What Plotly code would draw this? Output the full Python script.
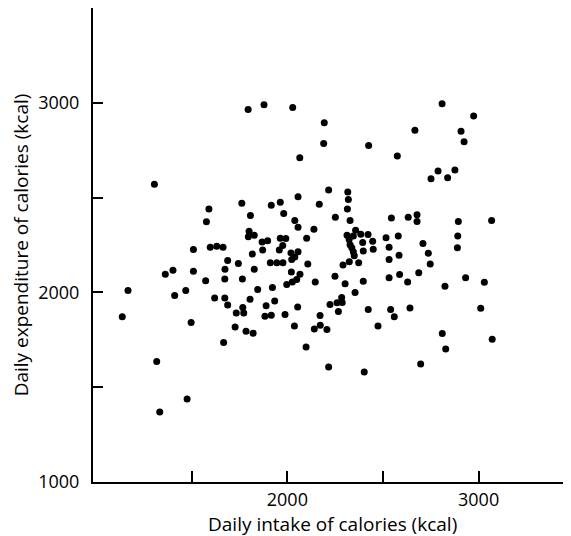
import plotly.graph_objects as go

# Daily intake (kcal) and daily expenditure (kcal) per subject
intake = [1305, 1590, 1795, 1878, 2028, 2193, 2190, 2425, 2065, 2216, 2316, 2319, 2314, 1762, 1916, 1963, 2056, 2167,
          2809, 2974, 2667, 2908, 2924, 2575, 2788, 2876, 2751, 2838,
          1577, 1509, 1597, 1631, 1664, 1688, 1744, 1674, 1362, 1402, 1509, 1673, 1765, 1573, 1167, 1469, 1411, 1620,
          1673, 1688, 1733, 1137, 1497,
          1807, 1981, 2039, 2056, 2139, 2251, 2328, 1800, 1796, 1827, 1868, 1897, 1963, 1992, 2101, 1976, 1958, 1871,
          1817, 2019, 2056, 2023, 2039, 1911, 1945, 1977, 2107, 1827, 2021, 2066, 2049, 2026, 1997, 2146, 1845, 1922,
          1805, 1934, 1889, 2054, 1767, 1772, 1883, 1916, 1988, 2171,
          2312, 2345, 2384, 2422, 2357, 2323, 2328, 2337, 2345, 2350, 2394, 2446, 2397, 2449, 2324, 2291, 2373, 2249,
          2302, 2397, 2354, 2284, 2260, 2223, 2287, 2267, 2423,
          2544, 2632, 2678, 2678, 2894, 3068, 2516, 2580, 2891, 2532, 2709, 2889, 2737, 2584, 2532, 2747, 2687, 2587,
          2532, 2629, 2932, 3030, 2824, 2540, 2641, 3011, 2559,
          1727, 1667, 1317, 1476, 1333,
          1784, 1821, 2037, 2141, 2172, 2207, 2098, 2216, 2402, 2474,
          2810, 3071, 2828, 2697]
expenditure = [2570, 2440, 2965, 2990, 2975, 2895, 2785, 2775, 2710, 2540, 2530, 2490, 2440, 2470, 2460, 2475, 2505, 2465,
               2995, 2930, 2855, 2850, 2795, 2720, 2640, 2645, 2600, 2605,
               2372, 2226, 2238, 2244, 2238, 2168, 2152, 2122, 2096, 2117, 2112, 2071, 2071, 2061, 2010, 2010, 1984, 1971,
               1971, 1934, 1892, 1871, 1841,
               2406, 2416, 2379, 2344, 2333, 2397, 2379, 2323, 2293, 2302, 2266, 2272, 2286, 2284, 2286, 2247, 2223, 2224,
               2202, 2208, 2214, 2174, 2187, 2156, 2156, 2156, 2150, 2122, 2107, 2096, 2068, 2055, 2042, 2055, 2015, 2026,
               1964, 1955, 1929, 1923, 1920, 1892, 1874, 1880, 1883, 1878,
               2302, 2298, 2307, 2305, 2328, 2279, 2251, 2235, 2214, 2193, 2263, 2270, 2219, 2228, 2161, 2144, 2156, 2085,
               2045, 2059, 2000, 1973, 1945, 1936, 1947, 1899, 1910,
               2392, 2397, 2409, 2374, 2374, 2379, 2288, 2297, 2297, 2238, 2258, 2235, 2207, 2196, 2174, 2150, 2103, 2094,
               2077, 2055, 2077, 2054, 2033, 1910, 1918, 1917, 1871,
               1818, 1736, 1635, 1438, 1369,
               1795, 1785, 1823, 1807, 1827, 1804, 1712, 1607, 1580, 1823,
               1783, 1753, 1702, 1623]

x_tickvals = [1500, 2000, 2500, 3000]
x_ticktext = ["", "2000", "", "3000"]
y_tickvals = [1000, 1500, 2000, 2500, 3000, 3500]
y_ticktext = ["1000", "", "2000", "", "3000", ""]
x_title = "Daily intake of calories (kcal)"
y_title = "Daily expenditure of calories (kcal)"

FONT = "'Open Sans', Lato, sans-serif"

fig = go.Figure(go.Scatter(
    x=intake, y=expenditure, mode="markers",
    marker=dict(color="black", size=7, line=dict(width=0)),
    hoverinfo="skip",
))

# the page body adds an 8 px offset, so the figure is 8 px smaller and margins shifted
fig.update_layout(
    width=563, height=528,
    margin=dict(l=85, r=0, t=0, b=54),
    paper_bgcolor="white", plot_bgcolor="white",
    showlegend=False,
    font=dict(family=FONT, size=16, color="black"),
    xaxis=dict(
        range=[984, 3483], showgrid=False, zeroline=False,
        showline=True, linecolor="black", linewidth=2,
        ticks="inside", ticklen=11, tickwidth=2, tickcolor="black",
        tickvals=x_tickvals, ticktext=x_ticktext,
        tickfont=dict(family=FONT, size=18),
        ticklabelstandoff=0,
    ),
    yaxis=dict(
        range=[1000, 3500], showgrid=False, zeroline=False,
        showline=True, linecolor="black", linewidth=2,
        ticks="inside", ticklen=10, tickwidth=2, tickcolor="black",
        tickvals=y_tickvals, ticktext=y_ticktext,
        tickfont=dict(family=FONT, size=18),
        ticklabelstandoff=8,
        title=dict(text=y_title, font=dict(family=FONT, size=19), standoff=9),
    ),
    annotations=[dict(
        text=x_title, xref="paper", yref="paper", x=0.5, y=0,
        xanchor="center", yanchor="top", yshift=-27, showarrow=False,
        font=dict(family=FONT, size=19),
    )],
)

fig.write_html("out.html")
